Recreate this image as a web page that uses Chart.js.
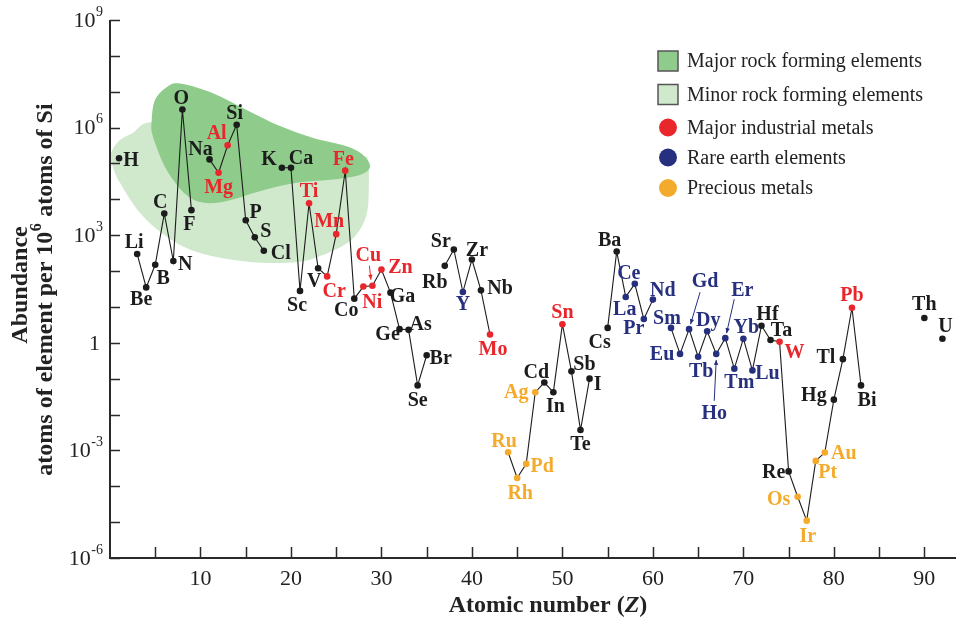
<!DOCTYPE html>
<html>
<head>
<meta charset="utf-8">
<title>Abundance of the chemical elements in the upper continental crust</title>
<script src="https://cdn.jsdelivr.net/npm/chart.js@4.4.0/dist/chart.umd.min.js"></script>
<style>
  html, body { margin: 0; padding: 0; background: #ffffff; }
  #wrap { width: 960px; height: 619px; }
</style>
</head>
<body>
<div id="wrap"><canvas id="chart" width="960" height="619"></canvas></div>
<script>
// Element symbols, Z = 1 .. 92
const symbols = ['H','He','Li','Be','B','C','N','O','F','Ne','Na','Mg','Al','Si','P','S','Cl','Ar',
  'K','Ca','Sc','Ti','V','Cr','Mn','Fe','Co','Ni','Cu','Zn','Ga','Ge','As','Se','Br','Kr',
  'Rb','Sr','Y','Zr','Nb','Mo','Tc','Ru','Rh','Pd','Ag','Cd','In','Sn','Sb','Te','I','Xe',
  'Cs','Ba','La','Ce','Pr','Nd','Pm','Sm','Eu','Gd','Tb','Dy','Ho','Er','Tm','Yb','Lu',
  'Hf','Ta','W','Re','Os','Ir','Pt','Au','Hg','Tl','Pb','Bi','Po','At','Rn','Fr','Ra','Ac','Th','Pa','U'];

// Atoms of element per 10^6 atoms of Si (null = not plotted)
const abundance = [
  1.4e5, null, 3.0e2, 35, 1.5e2, 4.0e3, 1.9e2, 3.2e6, 5.0e3, null,          // H  - Ne
  1.3e5, 5.5e4, 3.2e5, 1.2e6, 2.6e3, 8.7e2, 3.7e2, null,                    // Na - Ar
  7.6e4, 7.6e4, 28, 7.8e3, 1.2e2, 71, 1.07e3, 6.3e4, 17, 37, 39, 1.1e2,      // K  - Zn
  25, 2.4, 2.3, 0.065, 0.45, null,                                          // Ga - Kr
  1.4e2, 4.0e2, 26, 2.1e2, 29, 1.7, null, 8.9e-4, 1.7e-4, 4.2e-4,           // Rb - Pd
  0.042, 0.078, 0.042, 3.3, 0.16, 3.7e-3, 0.10, null,                       // Ag - Xe
  2.6, 3.5e2, 19, 44, 4.6, 16, null, 2.6, 0.49, 2.4, 0.41, 2.1, 0.49,       // Cs - Ho
  1.35, 0.19, 1.3, 0.17,                                                    // Er - Lu
  3.0, 1.2, 1.07, 2.6e-4, 5.1e-5, 1.1e-5, 5.1e-4, 8.7e-4, 0.026, 0.35,      // Hf - Tl
  9.5, 0.065, null, null, null, null, null, null,                           // Pb - Ac
  4.9, null, 1.3                                                            // Th - U
];

const industrialMetals = ['Mg','Al','Ti','Cr','Mn','Fe','Ni','Cu','Zn','Mo','Sn','W','Pb'];
const rareEarths = ['Y','La','Ce','Pr','Nd','Sm','Eu','Gd','Tb','Dy','Ho','Er','Tm','Yb','Lu'];
const preciousMetals = ['Ru','Rh','Pd','Ag','Os','Ir','Pt','Au'];

const xTickLabels = [10, 20, 30, 40, 50, 60, 70, 80, 90];
const yTickExponents = [9, 6, 3, 0, -3, -6];

// Outlines of the rock-forming element fields (atomic number, abundance)
const majorZoneZ = [4.61, 4.97, 6.19, 7.73, 11.38, 15.10, 18.78, 22.46, 26.15, 27.99,
                    28.73, 27.62, 24.31, 20.63, 16.94, 13.26, 10.69, 8.48, 6.27, 4.75];
const majorZoneAbundance = [1.6e6, 5.9e6, 1.3e7, 1.7e7, 9.1e6, 3.1e6, 1.1e6, 5.1e5, 3.0e5, 1.7e5,
                            8.1e4, 4.8e4, 3.5e4, 2.9e4, 1.8e4, 9.5e3, 7.9e3, 1.3e4, 6.6e4, 5.6e5];
const minorZoneZ = [0.11, 1.10, 2.54, 4.42, 9.94, 21.0, 27.6, 28.5, 28.6, 28.4,
                    27.6, 26.2, 23.5, 20.7, 15.5, 9.94, 6.30, 3.31, 1.10, 0.33];
const minorZoneAbundance = [1.9e5, 4.5e5, 7.1e5, 1.4e6, 1.2e6, 3.3e5, 1.7e5, 1.1e5, 1.8e4, 4.2e3,
                            1.4e3, 6.0e2, 2.8e2, 1.8e2, 1.8e2, 3.2e2, 8.9e2, 4.2e3, 2.9e4, 7.9e4];

// ---- styling ----
const SERIF = "'Liberation Serif', 'Times New Roman', serif";
const COL = { base: '#1c1c1c', red: '#e8262b', navy: '#26307e', gold: '#f4aa2a',
              major: '#8fcb8b', minor: '#d0e9cd', axis: '#2a2a2a' };

function groupColor(sym) {
  if (industrialMetals.includes(sym)) return COL.red;
  if (rareEarths.includes(sym)) return COL.navy;
  if (preciousMetals.includes(sym)) return COL.gold;
  return COL.base;
}

// label placement around each marker (pixels, centre of text relative to marker)
const labelOffset = {
  H:[12,2], Li:[-3,-12], Be:[-5,11], B:[8,13], C:[-4,-12], N:[12,3], O:[-1,-12], F:[-2,14],
  Na:[-9,-11], Mg:[0,14], Al:[-11,-13], Si:[-2,-12], P:[10,-8], S:[11,-7], Cl:[17,2],
  K:[-13,-9], Ca:[10,-10], Sc:[-3,14], Ti:[0,-12], V:[-4,13], Cr:[7,14], Mn:[-7,-13],
  Fe:[-2,-12], Co:[-8,11], Ni:[9,15], Cu:[-4,-31], Zn:[19,-3], Ga:[12,3], Ge:[-12,5],
  As:[12,-6], Se:[0,14], Br:[14,3], Rb:[-10,16], Sr:[-13,-9], Y:[0,12], Zr:[5,-10],
  Nb:[19,-3], Mo:[3,14], Ru:[-4,-11], Rh:[3,15], Pd:[16,2], Ag:[-19,0], Cd:[-8,-11],
  In:[2,14], Sn:[0,-12], Sb:[13,-8], Te:[0,14], I:[8,5], Cs:[-8,14], Ba:[-7,-12],
  La:[-1,12], Ce:[-6,-11], Pr:[-10,9], Nd:[10,-10], Sm:[-4,-10], Eu:[-18,0], Gd:[16,-48],
  Tb:[3,14], Dy:[1,-11], Ho:[-2,59], Er:[17,-48], Tm:[5,13], Yb:[3,-12], Lu:[15,2],
  Hf:[6,-12], Ta:[11,-10], W:[15,10], Re:[-15,0], Os:[-19,2], Ir:[1,15], Pt:[12,11],
  Au:[19,0], Hg:[-20,-5], Tl:[-17,-2], Pb:[0,-13], Bi:[6,14], Th:[0,-14], U:[3,-13]
};
// leader arrows from a label to its marker: [start dx, start dy, end dx, end dy]
const leaders = { Cu:[-3,-20,-1.5,-6], Gd:[11,-37,1.5,-5], Er:[9,-39,1.3,-5], Ho:[-2,47,0,6] };

const points = symbols.map((s, i) => ({ x: i + 1, y: abundance[i] }));
const pointColors = symbols.map(groupColor);

function closedSpline(ctx, pts) {
  const n = pts.length;
  ctx.beginPath();
  ctx.moveTo(pts[0][0], pts[0][1]);
  for (let i = 0; i < n; i++) {
    const p0 = pts[(i - 1 + n) % n], p1 = pts[i], p2 = pts[(i + 1) % n], p3 = pts[(i + 2) % n];
    ctx.bezierCurveTo(p1[0] + (p2[0] - p0[0]) / 6, p1[1] + (p2[1] - p0[1]) / 6,
                      p2[0] - (p3[0] - p1[0]) / 6, p2[1] - (p3[1] - p1[1]) / 6,
                      p2[0], p2[1]);
  }
  ctx.closePath();
}

function arrow(ctx, x1, y1, x2, y2, color) {
  ctx.save();
  ctx.strokeStyle = color; ctx.fillStyle = color; ctx.lineWidth = 1;
  ctx.beginPath(); ctx.moveTo(x1, y1); ctx.lineTo(x2, y2); ctx.stroke();
  const a = Math.atan2(y2 - y1, x2 - x1), L = 5, W = 2.2;
  ctx.beginPath();
  ctx.moveTo(x2, y2);
  ctx.lineTo(x2 - L * Math.cos(a) + W * Math.sin(a), y2 - L * Math.sin(a) - W * Math.cos(a));
  ctx.lineTo(x2 - L * Math.cos(a) - W * Math.sin(a), y2 - L * Math.sin(a) + W * Math.cos(a));
  ctx.closePath(); ctx.fill();
  ctx.restore();
}

function powerLabel(ctx, exp, xRight, yMid) {
  if (exp === 0) {
    ctx.font = '22px ' + SERIF; ctx.textAlign = 'right'; ctx.textBaseline = 'middle';
    ctx.fillText('1', xRight - 3, yMid + 1);
    return;
  }
  const e = String(exp);
  ctx.font = '14px ' + SERIF;
  const ew = ctx.measureText(e).width;
  ctx.textAlign = 'right'; ctx.textBaseline = 'middle';
  ctx.fillText(e, xRight, yMid - 8);
  ctx.font = '22px ' + SERIF;
  ctx.fillText('10', xRight - ew - 0.5, yMid + 1);
}

const overlay = {
  id: 'overlay',
  beforeDatasetsDraw(chart) {
    const { ctx, scales: { x, y } } = chart;
    const toPx = (zs, vs) => zs.map((z, i) => [x.getPixelForValue(z), y.getPixelForValue(vs[i])]);
    ctx.save();
    ctx.fillStyle = COL.minor;
    closedSpline(ctx, toPx(minorZoneZ, minorZoneAbundance)); ctx.fill();
    ctx.fillStyle = COL.major;
    closedSpline(ctx, toPx(majorZoneZ, majorZoneAbundance)); ctx.fill();
    ctx.restore();
  },
  afterDatasetsDraw(chart) {
    const { ctx, scales: { x, y } } = chart;
    ctx.save();
    ctx.font = 'bold 20px ' + SERIF;
    ctx.textAlign = 'center'; ctx.textBaseline = 'middle';
    symbols.forEach((s, i) => {
      if (abundance[i] == null) return;
      const px = x.getPixelForValue(i + 1), py = y.getPixelForValue(abundance[i]);
      const off = labelOffset[s] || [0, -12];
      const c = groupColor(s);
      ctx.fillStyle = c;
      ctx.fillText(s, px + off[0], py + off[1] + 1);
      const ld = leaders[s];
      if (ld) arrow(ctx, px + ld[0], py + ld[1], px + ld[2], py + ld[3], c);
    });
    ctx.restore();
  },
  afterDraw(chart) {
    const { ctx, chartArea: a, scales: { x, y } } = chart;
    ctx.save();
    // axes
    ctx.strokeStyle = COL.axis; ctx.lineWidth = 2;
    ctx.beginPath();
    ctx.moveTo(a.left, a.top); ctx.lineTo(a.left, a.bottom); ctx.lineTo(a.right, a.bottom);
    ctx.stroke();
    ctx.lineWidth = 1.5;
    ctx.beginPath();
    for (let e = -6; e <= 9; e++) {
      const py = Math.round(y.getPixelForValue(Math.pow(10, e))) + 0.5;
      ctx.moveTo(a.left, py); ctx.lineTo(a.left + 10, py);
    }
    for (let z = 5; z <= 90; z += 5) {
      const px = Math.round(x.getPixelForValue(z)) + 0.5;
      ctx.moveTo(px, a.bottom); ctx.lineTo(px, a.bottom - 11);
    }
    ctx.stroke();

    // tick labels
    ctx.fillStyle = '#222';
    yTickExponents.forEach(e => powerLabel(ctx, e, a.left - 7, y.getPixelForValue(Math.pow(10, e))));
    ctx.font = '22px ' + SERIF; ctx.textAlign = 'center'; ctx.textBaseline = 'middle';
    xTickLabels.forEach(z => ctx.fillText(String(z), x.getPixelForValue(z), a.bottom + 21));

    // x title
    ctx.font = 'bold 24px ' + SERIF;
    const t1 = 'Atomic number (', t3 = ')';
    ctx.font = 'bold 24px ' + SERIF; const w1 = ctx.measureText(t1).width, w3 = ctx.measureText(t3).width;
    ctx.font = 'italic bold 24px ' + SERIF; const w2 = ctx.measureText('Z').width;
    let sx = 548 - (w1 + w2 + w3) / 2;
    ctx.textAlign = 'left'; ctx.textBaseline = 'middle';
    ctx.font = 'bold 24px ' + SERIF; ctx.fillText(t1, sx, 606);
    ctx.font = 'italic bold 24px ' + SERIF; ctx.fillText('Z', sx + w1, 606);
    ctx.font = 'bold 24px ' + SERIF; ctx.fillText(t3, sx + w1 + w2, 606);

    // y title (two lines, rotated)
    const cy = (a.top + a.bottom) / 2;
    ctx.save();
    ctx.translate(21, cy - 4); ctx.rotate(-Math.PI / 2);
    ctx.textAlign = 'center'; ctx.font = 'bold 24px ' + SERIF;
    ctx.fillText('Abundance', 0, 0);
    ctx.restore();
    ctx.save();
    ctx.translate(46, cy + 1); ctx.rotate(-Math.PI / 2);
    const p1 = 'atoms of element per 10', p2 = '6', p3 = ' atoms of Si';
    ctx.font = 'bold 24px ' + SERIF; const q1 = ctx.measureText(p1).width, q3 = ctx.measureText(p3).width;
    ctx.font = 'bold 16px ' + SERIF; const q2 = ctx.measureText(p2).width;
    let s0 = -(q1 + q2 + q3) / 2;
    ctx.textAlign = 'left'; ctx.textBaseline = 'middle';
    ctx.font = 'bold 24px ' + SERIF; ctx.fillText(p1, s0, 0);
    ctx.font = 'bold 16px ' + SERIF; ctx.fillText(p2, s0 + q1 + 0.5, -9);
    ctx.font = 'bold 24px ' + SERIF; ctx.fillText(p3, s0 + q1 + q2 + 1, 0);
    ctx.restore();

    // legend
    const lx = 658, tx = 687;
    const rows = [
      { kind: 'box', color: COL.major, text: 'Major rock forming elements', yc: 61 },
      { kind: 'box', color: COL.minor, text: 'Minor rock forming elements', yc: 94.5 },
      { kind: 'dot', color: COL.red, text: 'Major industrial metals', yc: 127.5 },
      { kind: 'dot', color: COL.navy, text: 'Rare earth elements', yc: 157.5 },
      { kind: 'dot', color: COL.gold, text: 'Precious metals', yc: 188 }
    ];
    rows.forEach(r => {
      if (r.kind === 'box') {
        ctx.fillStyle = r.color; ctx.fillRect(lx, r.yc - 10, 20, 20);
        ctx.strokeStyle = '#555'; ctx.lineWidth = 1.5; ctx.strokeRect(lx, r.yc - 10, 20, 20);
      } else {
        ctx.fillStyle = r.color; ctx.beginPath(); ctx.arc(lx + 10, r.yc, 9, 0, Math.PI * 2); ctx.fill();
      }
      ctx.fillStyle = '#222'; ctx.font = '20px ' + SERIF;
      ctx.textAlign = 'left'; ctx.textBaseline = 'middle';
      ctx.fillText(r.text, tx, r.yc + 1);
    });
    ctx.restore();
  }
};

new Chart(document.getElementById('chart').getContext('2d'), {
  type: 'line',
  data: {
    datasets: [{
      data: points,
      borderColor: COL.base,
      borderWidth: 1.1,
      tension: 0,
      spanGaps: false,
      pointRadius: 3.3,
      pointBackgroundColor: pointColors,
      pointBorderColor: pointColors,
      pointBorderWidth: 0
    }]
  },
  options: {
    responsive: false,
    animation: false,
    devicePixelRatio: 1,
    layout: { padding: { left: 110, top: 20, right: 4, bottom: 61 } },
    plugins: { legend: { display: false }, tooltip: { enabled: false } },
    scales: {
      x: { type: 'linear', min: 0, max: 93.5, display: false },
      y: { type: 'logarithmic', min: 1e-6, max: 1e9, display: false }
    }
  },
  plugins: [overlay]
});
</script>
</body>
</html>
